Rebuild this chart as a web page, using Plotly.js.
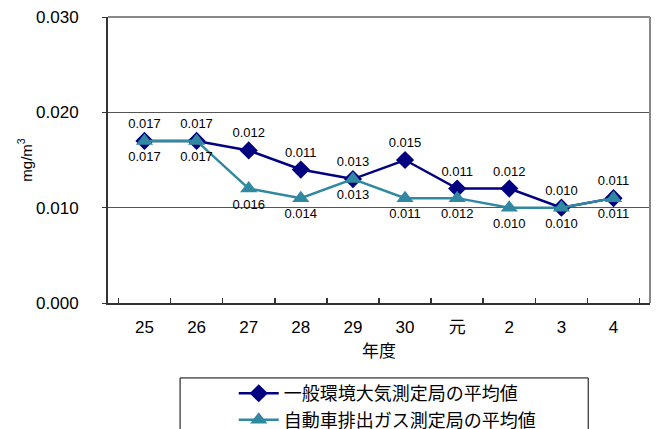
<!DOCTYPE html>
<html>
<head>
<meta charset="utf-8">
<script src="https://cdn.plot.ly/plotly-3.0.1.min.js"></script>
<style>html,body{margin:0;padding:0;background:#fff;}#chart{width:658px;height:429px;}</style>
</head>
<body>
<div id="chart"></div>
<script>
const categories = ['25','26','27','28','29','30','元','2','3','4'];
const generalValues = [0.017,0.017,0.016,0.014,0.013,0.015,0.012,0.012,0.010,0.011];
const roadsideValues = [0.017,0.017,0.012,0.011,0.013,0.011,0.011,0.010,0.010,0.011];
const generalLabels = ['0.017','0.017','0.012','0.011','0.013','0.015','0.011','0.012','0.010','0.011'];
const roadsideLabels = ['0.017','0.017','0.016','0.014','0.013','0.011','0.012','0.010','0.010','0.011'];
const yTicks = [0, 0.01, 0.02, 0.03];
const yTickLabels = ['0.000','0.010','0.020','0.030'];

const baseFont = 'Liberation Sans, Arial, Noto Sans CJK JP, sans-serif';
const jpFont = 'Noto Sans CJK JP, sans-serif';

const traces = [
  {
    x: categories, y: generalValues, name: '一般環境大気測定局の平均値',
    type: 'scatter', mode: 'lines+markers+text',
    line: {color: '#000080', width: 2.5},
    marker: {symbol: 'diamond', size: 14, color: '#000080'},
    text: generalLabels, textposition: 'top center',
    textfont: {family: baseFont, size: 13, color: '#000'},
    cliponaxis: false
  },
  {
    x: categories, y: roadsideValues, name: '自動車排出ガス測定局の平均値',
    type: 'scatter', mode: 'lines+markers+text',
    line: {color: '#3189A1', width: 2.5},
    marker: {symbol: 'triangle-up', size: 15, color: '#3189A1'},
    text: roadsideLabels, textposition: 'bottom center',
    textfont: {family: baseFont, size: 13, color: '#000'},
    cliponaxis: false
  }
];

const layout = {
  width: 658, height: 429,
  margin: {l: 108, r: 8, t: 17, b: 126, autoexpand: false},
  paper_bgcolor: '#fff', plot_bgcolor: '#fff',
  showlegend: true,
  font: {family: baseFont, color: '#000'},
  xaxis: {
    type: 'category', tickson: 'boundaries', ticks: 'inside', ticklen: 5,
    tickcolor: '#333', tickwidth: 1.5, automargin: false,
    showline: true, linecolor: '#333', linewidth: 2,
    showgrid: false, zeroline: false,
    tickfont: {family: baseFont, size: 17, color: '#000'},
    ticklabelstandoff: 8,
    title: {text: '年度', font: {family: jpFont, size: 17, color: '#000'}, standoff: 4}
  },
  yaxis: {
    range: [0, 0.03], tickvals: yTicks, ticktext: yTickLabels,
    ticks: 'outside', ticklen: 4, tickcolor: '#333', automargin: false,
    showline: true, linecolor: '#333', linewidth: 2,
    showgrid: true, gridcolor: '#555', gridwidth: 1, zeroline: false,
    tickfont: {family: baseFont, size: 17, color: '#000'},
    ticklabelstandoff: 20,
    title: {text: 'mg/m<sup>3</sup>', font: {family: baseFont, size: 15, color: '#000'}, standoff: 0}
  },
  legend: {
    x: 0.232, xanchor: 'left', y: -0.252, yanchor: 'top',
    bgcolor: 'rgba(0,0,0,0)', borderwidth: 0,
    font: {family: jpFont, size: 18, color: '#000'},
    tracegroupgap: 0, itemwidth: 40
  },
  shapes: [
    {type: 'line', xref: 'paper', yref: 'paper', x0: 1, x1: 1, y0: 0, y1: 1, line: {color: '#888', width: 2}},
    {type: 'line', xref: 'paper', yref: 'paper', x0: 0, x1: 1, y0: 1, y1: 1, line: {color: '#888', width: 2}},
    {type: 'rect', xref: 'paper', yref: 'paper', x0: 0.133, x1: 0.886, y0: -0.262, y1: -0.5, line: {color: '#000', width: 1}}
  ]
};

Plotly.newPlot('chart', traces, layout, {displayModeBar: false, staticPlot: true});
</script>
</body>
</html>
